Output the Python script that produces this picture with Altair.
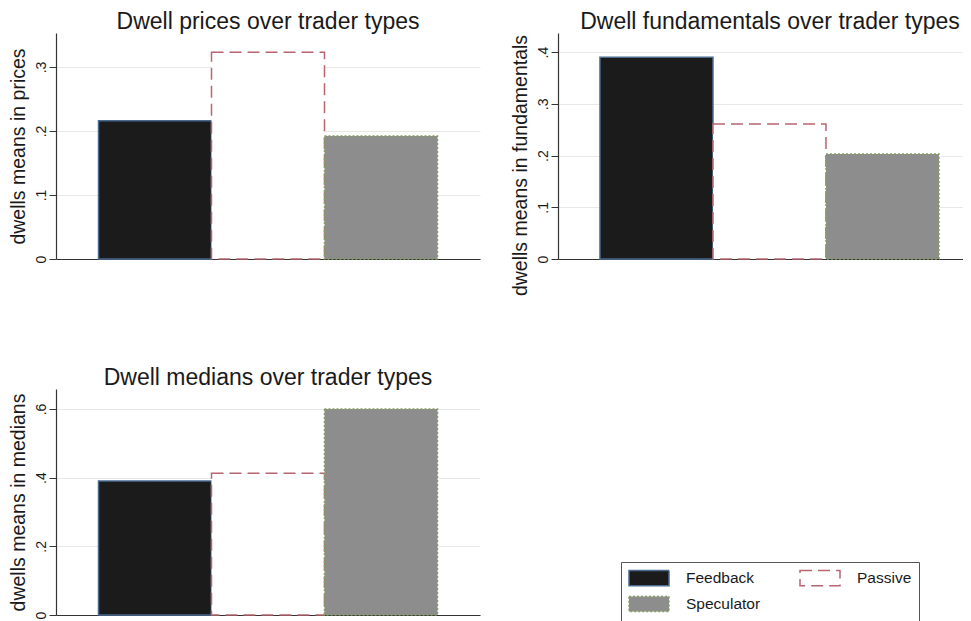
import altair as alt
import pandas as pd

types = ["Feedback", "Passive", "Speculator"]
prices = [0.216, 0.323, 0.192]
fundamentals = [0.390, 0.261, 0.203]
medians = [0.390, 0.413, 0.600]

# legend/colour order (column-major legend grid): Feedback, Speculator | Passive
legend_order = ["Feedback", "Speculator", "Passive"]
fill_colors = ["#1b1b1b", "#8d8d8d", "#ffffff"]
stroke_colors = ["#4a6a90", "#84a062", "#b86570"]
dashes = [[1, 0], [2, 2], [12, 6]]

FONT = "Liberation Sans"


def panel(vals, title, ytitle, ymax, ticks, width, po, align, dx, title_y, show_legend):
    df = pd.DataFrame({"type": types, "value": vals})
    if show_legend:
        leg = alt.Legend(
            title=None, orient="none", legendX=565, legendY=173, columns=2,
            symbolType="M-1,-0.95H4V0.95H-1Z", symbolSize=256,
            symbolStrokeWidth=1.5, labelFontSize=15.5, labelFont=FONT,
            labelColor="#1a1a1a", labelOffset=40, columnPadding=36,
            rowPadding=4, padding=7, strokeColor="#555555", fillColor="white",
        )
    else:
        leg = None
    axis_kw = dict(values=ticks, title=ytitle, titleFont=FONT,
                   titleFontSize=19.5, titleFontWeight="normal",
                   titleColor="#1a1a1a", titlePadding=6,
                   labelFont=FONT, labelFontSize=14, labelColor="#1a1a1a",
                   labelAngle=270, labelAlign="center", labelBaseline="bottom",
                   labelPadding=1, tickSize=7, tickColor="#333333",
                   domainColor="#333333", domainWidth=1.2,
                   grid=True, gridColor="#e8e8e8", gridWidth=1,
                   labelExpr="datum.value == 0 ? '0' : substring(format(datum.value, '.1f'), 1)")
    if title_y is not None:
        axis_kw["titleY"] = title_y
    return alt.Chart(df).mark_bar(strokeWidth=1.5).encode(
        x=alt.X("type:N", sort=types,
                scale=alt.Scale(paddingInner=0, paddingOuter=po, align=align),
                axis=alt.Axis(title=None, labels=False, ticks=False, grid=False,
                              domain=True, domainColor="#333333", domainWidth=1.2)),
        y=alt.Y("value:Q",
                scale=alt.Scale(domain=[0, ymax], nice=False, zero=True),
                axis=alt.Axis(**axis_kw)),
        fill=alt.Fill("type:N", scale=alt.Scale(domain=legend_order, range=fill_colors), legend=leg),
        stroke=alt.Stroke("type:N", scale=alt.Scale(domain=legend_order, range=stroke_colors), legend=leg),
        strokeDash=alt.StrokeDash("type:N", scale=alt.Scale(domain=legend_order, range=dashes), legend=leg),
    ).properties(
        width=width, height=226,
        title=alt.TitleParams(title, font=FONT, fontSize=23, fontWeight="normal",
                              color="#1a1a1a", anchor="middle", dx=dx, offset=-1),
    )


p1 = panel(prices, "Dwell prices over trader types", "dwells means in prices",
           0.353, [0, 0.1, 0.2, 0.3], 424, 0.376, 0.5, 0, None, False)
p2 = panel(fundamentals, "Dwell fundamentals over trader types", "dwells means in fundamentals",
           0.437, [0, 0.1, 0.2, 0.3, 0.4], 405, 0.292, 0.636, 9.5, 132, False)
p3 = panel(medians, "Dwell medians over trader types", "dwells means in medians",
           0.658, [0, 0.2, 0.4, 0.6], 424, 0.376, 0.5, 0, None, True)

res = dict(fill="independent", stroke="independent", strokeDash="independent")

chart = alt.concat(p1, p2, p3, columns=2, spacing={"row": 130, "column": 78},
                   bounds="flush").resolve_scale(**res).resolve_legend(**res)
chart = chart.properties(
    padding={"left": 0, "top": 3, "right": 0, "bottom": 0},
    background="white",
).configure_view(stroke=None)

chart.save("out.html", embed_options={"renderer": "svg", "actions": False})
